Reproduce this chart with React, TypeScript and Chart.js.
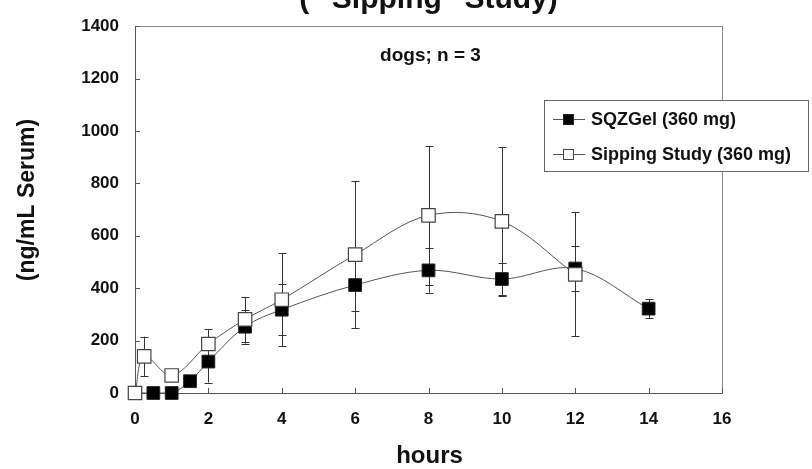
import React, { useEffect, useRef } from "react";
import { Chart, registerables } from "chart.js";

Chart.register(...registerables);

const titleText = '( "Sipping" Study)';
const yTitleText = "(ng/mL Serum)";
const xTitleText = "hours";
const noteText = "dogs; n = 3";

const sqzLabel = "SQZGel (360 mg)";
const sqzHours = [0, 0.5, 1, 1.5, 2, 3, 4, 6, 8, 10, 12, 14];
const sqzValues = [0, 0, 0, 45, 120, 253, 318, 412, 468, 435, 475, 322];
const sqzErrors = [0, 0, 0, 15, 80, 65, 97, 100, 85, 60, 85, 35];

const sipLabel = "Sipping Study (360 mg)";
const sipHours = [0, 0.25, 1, 2, 3, 4, 6, 8, 10, 12];
const sipValues = [0, 140, 67, 187, 281, 356, 528, 678, 655, 453];
const sipErrors = [0, 75, 0, 57, 86, 178, 280, 265, 285, 236];

const xTicks = [0, 2, 4, 6, 8, 10, 12, 14, 16];
const yTicks = [0, 200, 400, 600, 800, 1000, 1200, 1400];

const FONT = "'Liberation Sans', Arial, Helvetica, sans-serif";

const errorBarPlugin = {
  id: "errorBars",
  beforeDatasetsDraw(chart: any) {
    const { ctx, scales } = chart;
    const xs = scales.x;
    const ys = scales.y;
    ctx.save();
    ctx.strokeStyle = "#333";
    ctx.lineWidth = 1;
    chart.data.datasets.forEach((ds: any) => {
      const errs: number[] = ds.errors || [];
      ds.data.forEach((p: any, i: number) => {
        const e = errs[i];
        if (!e) return;
        const x = Math.round(xs.getPixelForValue(p.x)) + 0.5;
        const yt = ys.getPixelForValue(p.y + e);
        const yb = ys.getPixelForValue(Math.max(0, p.y - e));
        ctx.beginPath();
        ctx.moveTo(x, yt);
        ctx.lineTo(x, yb);
        ctx.moveTo(x - 4, Math.round(yt) + 0.5);
        ctx.lineTo(x + 4, Math.round(yt) + 0.5);
        ctx.moveTo(x - 4, Math.round(yb) + 0.5);
        ctx.lineTo(x + 4, Math.round(yb) + 0.5);
        ctx.stroke();
      });
    });
    ctx.restore();
  },
};

const framePlugin = {
  id: "frameAndText",
  beforeDatasetsDraw(chart: any) {
    const { ctx, chartArea: a, scales } = chart;
    ctx.save();
    ctx.strokeStyle = "#8a8a8a";
    ctx.lineWidth = 1;
    ctx.strokeRect(Math.round(a.left) + 0.5, Math.round(a.top) + 0.5, Math.round(a.right - a.left), Math.round(a.bottom - a.top));
    ctx.strokeStyle = "#555";
    ctx.beginPath();
    ctx.moveTo(Math.round(a.left) + 0.5, a.top);
    ctx.lineTo(Math.round(a.left) + 0.5, a.bottom);
    ctx.moveTo(a.left, Math.round(a.bottom) + 0.5);
    ctx.lineTo(a.right, Math.round(a.bottom) + 0.5);
    xTicks.forEach((v) => {
      const x = Math.round(scales.x.getPixelForValue(v)) + 0.5;
      ctx.moveTo(x, Math.round(a.bottom));
      ctx.lineTo(x, Math.round(a.bottom) - 5);
    });
    yTicks.forEach((v) => {
      const y = Math.round(scales.y.getPixelForValue(v)) + 0.5;
      ctx.moveTo(Math.round(a.left), y);
      ctx.lineTo(Math.round(a.left) + 5, y);
    });
    ctx.stroke();
    ctx.restore();
  },
  afterDraw(chart: any) {
    const { ctx, chartArea: a } = chart;
    const cx = (a.left + a.right) / 2;
    ctx.save();
    ctx.fillStyle = "#111";
    ctx.font = `bold 30px ${FONT}`;
    ctx.textAlign = "center";
    ctx.textBaseline = "alphabetic";
    ctx.fillText(titleText, cx, 8);
    ctx.font = `bold 19px ${FONT}`;
    ctx.fillText(noteText, cx + 2, 61);
    ctx.font = `bold 24px ${FONT}`;
    ctx.fillText(xTitleText, cx + 1, 463);
    ctx.save();
    ctx.translate(34, 200);
    ctx.rotate(-Math.PI / 2);
    ctx.font = `bold 23px ${FONT}`;
    ctx.fillText(yTitleText, 0, 0);
    ctx.restore();

    const lx = 544, ly = 100, lw = 264, lh = 71;
    ctx.fillStyle = "#ffffff";
    ctx.fillRect(lx, ly, lw, lh);
    ctx.strokeStyle = "#666";
    ctx.lineWidth = 1;
    ctx.strokeRect(lx + 0.5, ly + 0.5, lw, lh);
    const rows = [
      { ds: chart.data.datasets[0], y: 119 },
      { ds: chart.data.datasets[1], y: 154 },
    ];
    rows.forEach(({ ds, y }) => {
      ctx.strokeStyle = "#555";
      ctx.beginPath();
      ctx.moveTo(553, y + 0.5);
      ctx.lineTo(585, y + 0.5);
      ctx.stroke();
      ctx.fillStyle = ds.pointBackgroundColor;
      ctx.fillRect(563, y - 5, 11, 11);
      ctx.strokeStyle = ds.pointBorderColor;
      ctx.strokeRect(563.5, y - 4.5, 10, 10);
      ctx.fillStyle = "#111";
      ctx.font = `bold 18px ${FONT}`;
      ctx.textAlign = "left";
      ctx.textBaseline = "middle";
      ctx.fillText(ds.label, 591, y + 1);
    });
    ctx.restore();
  },
};

export default function App() {
  const ref = useRef<HTMLCanvasElement>(null);
  useEffect(() => {
    if (!ref.current) return;
    const chart = new Chart(ref.current, {
      type: "line",
      data: {
        datasets: [
          {
            label: sqzLabel,
            data: sqzHours.map((h, i) => ({ x: h, y: sqzValues[i] })),
            errors: sqzErrors,
            borderColor: "#555",
            borderWidth: 1,
            pointStyle: "rect",
            pointRadius: 9,
            pointBackgroundColor: "#000",
            pointBorderColor: "#222",
            pointBorderWidth: 1,
            tension: 0.35,
            clip: false,
            order: 2,
          } as any,
          {
            label: sipLabel,
            data: sipHours.map((h, i) => ({ x: h, y: sipValues[i] })),
            errors: sipErrors,
            borderColor: "#555",
            borderWidth: 1,
            pointStyle: "rect",
            pointRadius: 9.5,
            pointBackgroundColor: "#fff",
            pointBorderColor: "#444",
            pointBorderWidth: 1.2,
            tension: 0.35,
            clip: false,
            order: 1,
          } as any,
        ],
      },
      options: {
        animation: false,
        responsive: false,
        devicePixelRatio: 1,
        layout: { padding: { left: 0, right: 90, top: 17, bottom: 0 } },
        plugins: { legend: { display: false }, tooltip: { enabled: false }, title: { display: false } },
        scales: {
          x: {
            type: "linear",
            min: 0,
            max: 16,
            afterFit: (s: any) => { s.height = 76; },
            afterBuildTicks: (s: any) => { s.ticks = xTicks.map((v) => ({ value: v })); },
            grid: { display: false, drawTicks: false },
            border: { display: false },
            ticks: { color: "#111", padding: 16, callback: (v: any) => String(v), font: { family: FONT, size: 17, weight: "bold" } },
          },
          y: {
            type: "linear",
            min: 0,
            max: 1400,
            afterFit: (s: any) => { s.width = 135; },
            afterBuildTicks: (s: any) => { s.ticks = yTicks.map((v) => ({ value: v })); },
            grid: { display: false, drawTicks: false },
            border: { display: false },
            ticks: { color: "#111", padding: 16, callback: (v: any) => String(v), font: { family: FONT, size: 17, weight: "bold" } },
          },
        },
      } as any,
      plugins: [framePlugin, errorBarPlugin],
    });
    return () => chart.destroy();
  }, []);
  return (
    <div style={{ position: "absolute", left: 0, top: 0, width: 812, height: 469, background: "#fff" }}>
      <canvas ref={ref} width={812} height={469} style={{ width: 812, height: 469, display: "block" }} />
    </div>
  );
}
